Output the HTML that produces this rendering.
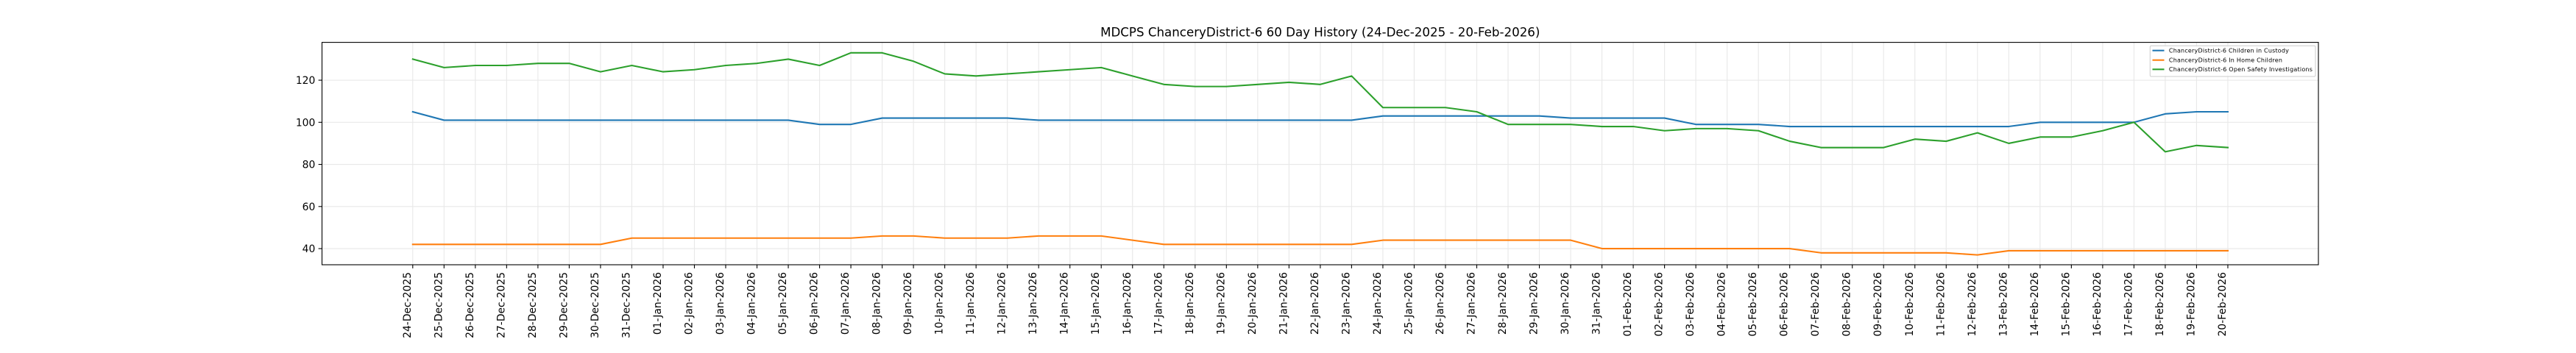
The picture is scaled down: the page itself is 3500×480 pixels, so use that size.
<!DOCTYPE html>
<html>
<head>
<meta charset="utf-8">
<style>
  html, body { margin:0; padding:0; background:#ffffff; }
  body { width:3500px; height:480px; overflow:hidden; }
  svg { display:block; }
  text { font-family: "DejaVu Sans", "Liberation Sans", sans-serif; fill:#000; }
</style>
</head>
<body>
<svg width="3500" height="480" viewBox="0 0 3500 480" xmlns="http://www.w3.org/2000/svg">
  <rect x="0" y="0" width="3500" height="480" fill="#ffffff"/>

  <!-- title -->
  <text x="1793.75" y="49.3" font-size="16.67" text-anchor="middle">MDCPS ChanceryDistrict-6 60 Day History (24-Dec-2025 - 20-Feb-2026)</text>

  <!-- horizontal grid -->
  <g stroke="#e8e8e8" stroke-width="1.1">
    <line x1="437.5" x2="3150" y1="338.05" y2="338.05"/>
    <line x1="437.5" x2="3150" y1="280.8" y2="280.8"/>
    <line x1="437.5" x2="3150" y1="223.55" y2="223.55"/>
    <line x1="437.5" x2="3150" y1="166.3" y2="166.3"/>
    <line x1="437.5" x2="3150" y1="109.05" y2="109.05"/>
  </g>

  <!-- data-coordinate group: x = 560.8 + 42.52*i, y = 452.55 - 2.8625*v -->
  <g transform="translate(560.8,452.55) scale(42.52,-2.8625)">
    <!-- vertical grid -->
    <path vector-effect="non-scaling-stroke" stroke="#e8e8e8" stroke-width="1.1" fill="none"
      d="M0 32.33V137.97M1 32.33V137.97M2 32.33V137.97M3 32.33V137.97M4 32.33V137.97M5 32.33V137.97M6 32.33V137.97M7 32.33V137.97M8 32.33V137.97M9 32.33V137.97M10 32.33V137.97M11 32.33V137.97M12 32.33V137.97M13 32.33V137.97M14 32.33V137.97M15 32.33V137.97M16 32.33V137.97M17 32.33V137.97M18 32.33V137.97M19 32.33V137.97M20 32.33V137.97M21 32.33V137.97M22 32.33V137.97M23 32.33V137.97M24 32.33V137.97M25 32.33V137.97M26 32.33V137.97M27 32.33V137.97M28 32.33V137.97M29 32.33V137.97M30 32.33V137.97M31 32.33V137.97M32 32.33V137.97M33 32.33V137.97M34 32.33V137.97M35 32.33V137.97M36 32.33V137.97M37 32.33V137.97M38 32.33V137.97M39 32.33V137.97M40 32.33V137.97M41 32.33V137.97M42 32.33V137.97M43 32.33V137.97M44 32.33V137.97M45 32.33V137.97M46 32.33V137.97M47 32.33V137.97M48 32.33V137.97M49 32.33V137.97M50 32.33V137.97M51 32.33V137.97M52 32.33V137.97M53 32.33V137.97M54 32.33V137.97M55 32.33V137.97M56 32.33V137.97M57 32.33V137.97M58 32.33V137.97"/>

    <!-- x ticks -->
    <path vector-effect="non-scaling-stroke" stroke="#000" stroke-width="1.1" fill="none"
      d="M0 32.33V30.63M1 32.33V30.63M2 32.33V30.63M3 32.33V30.63M4 32.33V30.63M5 32.33V30.63M6 32.33V30.63M7 32.33V30.63M8 32.33V30.63M9 32.33V30.63M10 32.33V30.63M11 32.33V30.63M12 32.33V30.63M13 32.33V30.63M14 32.33V30.63M15 32.33V30.63M16 32.33V30.63M17 32.33V30.63M18 32.33V30.63M19 32.33V30.63M20 32.33V30.63M21 32.33V30.63M22 32.33V30.63M23 32.33V30.63M24 32.33V30.63M25 32.33V30.63M26 32.33V30.63M27 32.33V30.63M28 32.33V30.63M29 32.33V30.63M30 32.33V30.63M31 32.33V30.63M32 32.33V30.63M33 32.33V30.63M34 32.33V30.63M35 32.33V30.63M36 32.33V30.63M37 32.33V30.63M38 32.33V30.63M39 32.33V30.63M40 32.33V30.63M41 32.33V30.63M42 32.33V30.63M43 32.33V30.63M44 32.33V30.63M45 32.33V30.63M46 32.33V30.63M47 32.33V30.63M48 32.33V30.63M49 32.33V30.63M50 32.33V30.63M51 32.33V30.63M52 32.33V30.63M53 32.33V30.63M54 32.33V30.63M55 32.33V30.63M56 32.33V30.63M57 32.33V30.63M58 32.33V30.63"/>

    <!-- Children in Custody -->
    <polyline vector-effect="non-scaling-stroke" fill="none" stroke="#1f77b4" stroke-width="2.08" stroke-linejoin="round" stroke-linecap="square"
      points="0,105 1,101 12,101 13,99 14,99 15,102 19,102 20,101 30,101 31,103 36,103 37,102 40,102 41,99 43,99 44,98 51,98 52,100 55,100 56,104 57,105 58,105"/>
    <!-- In Home Children -->
    <polyline vector-effect="non-scaling-stroke" fill="none" stroke="#ff7f0e" stroke-width="2.08" stroke-linejoin="round" stroke-linecap="square"
      points="0,42 6,42 7,45 14,45 15,46 16,46 17,45 19,45 20,46 22,46 23,44 24,42 30,42 31,44 37,44 38,40 44,40 45,38 49,38 50,37 51,39 58,39"/>
    <!-- Open Safety Investigations -->
    <polyline vector-effect="non-scaling-stroke" fill="none" stroke="#2ca02c" stroke-width="2.08" stroke-linejoin="round" stroke-linecap="square"
      points="0,130 1,126 2,127 3,127 4,128 5,128 6,124 7,127 8,124 9,125 10,127 11,128 12,130 13,127 14,133 15,133 16,129 17,123 18,122 19,123 20,124 21,125 22,126 23,122 24,118 25,117 26,117 27,118 28,119 29,118 30,122 31,107 32,107 33,107 34,105 35,99 36,99 37,99 38,98 39,98 40,96 41,97 42,97 43,96 44,91 45,88 46,88 47,88 48,92 49,91 50,95 51,90 52,93 53,93 54,96 55,100 56,86 57,89 58,88"/>
  </g>

  <!-- y ticks -->
  <g stroke="#000" stroke-width="1.1">
    <line x1="432.64" x2="437.5" y1="338.05" y2="338.05"/>
    <line x1="432.64" x2="437.5" y1="280.8" y2="280.8"/>
    <line x1="432.64" x2="437.5" y1="223.55" y2="223.55"/>
    <line x1="432.64" x2="437.5" y1="166.3" y2="166.3"/>
    <line x1="432.64" x2="437.5" y1="109.05" y2="109.05"/>
  </g>
  <g font-size="13.89" text-anchor="end">
    <text x="428.3" y="343.1">40</text>
    <text x="428.3" y="285.8">60</text>
    <text x="428.3" y="228.6">80</text>
    <text x="428.3" y="171.3">100</text>
    <text x="428.3" y="114.1">120</text>
  </g>

  <!-- axes frame -->
  <rect x="437.5" y="57.6" width="2712.5" height="302.4" fill="none" stroke="#000" stroke-width="1.1"/>

  <!-- legend -->
  <rect x="2921.3" y="62.3" width="224.7" height="41.7" rx="1.6" ry="1.6" fill="#ffffff" fill-opacity="0.8" stroke="#cccccc" stroke-width="1"/>
  <g stroke-width="2.08">
    <line x1="2924.5" x2="2940.5" y1="68.7" y2="68.7" stroke="#1f77b4"/>
    <line x1="2924.5" x2="2940.5" y1="81.7" y2="81.7" stroke="#ff7f0e"/>
    <line x1="2924.5" x2="2940.5" y1="94.3" y2="94.3" stroke="#2ca02c"/>
  </g>
  <g font-size="8">
    <text x="2946.9" y="71.6" textLength="163" lengthAdjust="spacing">ChanceryDistrict-6 Children in Custody</text>
    <text x="2946.9" y="84.6" textLength="154" lengthAdjust="spacing">ChanceryDistrict-6 In Home Children</text>
    <text x="2946.9" y="97.2" textLength="195" lengthAdjust="spacing">ChanceryDistrict-6 Open Safety Investigations</text>
  </g>

  <!-- x tick labels -->
  <g font-size="13.89" text-anchor="end">
    <text transform="translate(557.8,370) rotate(-90)">24-Dec-2025</text>
    <text transform="translate(600.32,370) rotate(-90)">25-Dec-2025</text>
    <text transform="translate(642.84,370) rotate(-90)">26-Dec-2025</text>
    <text transform="translate(685.36,370) rotate(-90)">27-Dec-2025</text>
    <text transform="translate(727.88,370) rotate(-90)">28-Dec-2025</text>
    <text transform="translate(770.4,370) rotate(-90)">29-Dec-2025</text>
    <text transform="translate(812.92,370) rotate(-90)">30-Dec-2025</text>
    <text transform="translate(855.44,370) rotate(-90)">31-Dec-2025</text>
    <text transform="translate(897.96,370) rotate(-90)">01-Jan-2026</text>
    <text transform="translate(940.48,370) rotate(-90)">02-Jan-2026</text>
    <text transform="translate(983.0,370) rotate(-90)">03-Jan-2026</text>
    <text transform="translate(1025.52,370) rotate(-90)">04-Jan-2026</text>
    <text transform="translate(1068.04,370) rotate(-90)">05-Jan-2026</text>
    <text transform="translate(1110.56,370) rotate(-90)">06-Jan-2026</text>
    <text transform="translate(1153.08,370) rotate(-90)">07-Jan-2026</text>
    <text transform="translate(1195.6,370) rotate(-90)">08-Jan-2026</text>
    <text transform="translate(1238.12,370) rotate(-90)">09-Jan-2026</text>
    <text transform="translate(1280.64,370) rotate(-90)">10-Jan-2026</text>
    <text transform="translate(1323.16,370) rotate(-90)">11-Jan-2026</text>
    <text transform="translate(1365.68,370) rotate(-90)">12-Jan-2026</text>
    <text transform="translate(1408.2,370) rotate(-90)">13-Jan-2026</text>
    <text transform="translate(1450.72,370) rotate(-90)">14-Jan-2026</text>
    <text transform="translate(1493.24,370) rotate(-90)">15-Jan-2026</text>
    <text transform="translate(1535.76,370) rotate(-90)">16-Jan-2026</text>
    <text transform="translate(1578.28,370) rotate(-90)">17-Jan-2026</text>
    <text transform="translate(1620.8,370) rotate(-90)">18-Jan-2026</text>
    <text transform="translate(1663.32,370) rotate(-90)">19-Jan-2026</text>
    <text transform="translate(1705.84,370) rotate(-90)">20-Jan-2026</text>
    <text transform="translate(1748.36,370) rotate(-90)">21-Jan-2026</text>
    <text transform="translate(1790.88,370) rotate(-90)">22-Jan-2026</text>
    <text transform="translate(1833.4,370) rotate(-90)">23-Jan-2026</text>
    <text transform="translate(1875.92,370) rotate(-90)">24-Jan-2026</text>
    <text transform="translate(1918.44,370) rotate(-90)">25-Jan-2026</text>
    <text transform="translate(1960.96,370) rotate(-90)">26-Jan-2026</text>
    <text transform="translate(2003.48,370) rotate(-90)">27-Jan-2026</text>
    <text transform="translate(2046.0,370) rotate(-90)">28-Jan-2026</text>
    <text transform="translate(2088.52,370) rotate(-90)">29-Jan-2026</text>
    <text transform="translate(2131.04,370) rotate(-90)">30-Jan-2026</text>
    <text transform="translate(2173.56,370) rotate(-90)">31-Jan-2026</text>
    <text transform="translate(2216.08,370) rotate(-90)">01-Feb-2026</text>
    <text transform="translate(2258.6,370) rotate(-90)">02-Feb-2026</text>
    <text transform="translate(2301.12,370) rotate(-90)">03-Feb-2026</text>
    <text transform="translate(2343.64,370) rotate(-90)">04-Feb-2026</text>
    <text transform="translate(2386.16,370) rotate(-90)">05-Feb-2026</text>
    <text transform="translate(2428.68,370) rotate(-90)">06-Feb-2026</text>
    <text transform="translate(2471.2,370) rotate(-90)">07-Feb-2026</text>
    <text transform="translate(2513.72,370) rotate(-90)">08-Feb-2026</text>
    <text transform="translate(2556.24,370) rotate(-90)">09-Feb-2026</text>
    <text transform="translate(2598.76,370) rotate(-90)">10-Feb-2026</text>
    <text transform="translate(2641.28,370) rotate(-90)">11-Feb-2026</text>
    <text transform="translate(2683.8,370) rotate(-90)">12-Feb-2026</text>
    <text transform="translate(2726.32,370) rotate(-90)">13-Feb-2026</text>
    <text transform="translate(2768.84,370) rotate(-90)">14-Feb-2026</text>
    <text transform="translate(2811.36,370) rotate(-90)">15-Feb-2026</text>
    <text transform="translate(2853.88,370) rotate(-90)">16-Feb-2026</text>
    <text transform="translate(2896.4,370) rotate(-90)">17-Feb-2026</text>
    <text transform="translate(2938.92,370) rotate(-90)">18-Feb-2026</text>
    <text transform="translate(2981.44,370) rotate(-90)">19-Feb-2026</text>
    <text transform="translate(3023.96,370) rotate(-90)">20-Feb-2026</text>
  </g>
</svg>
</body>
</html>
